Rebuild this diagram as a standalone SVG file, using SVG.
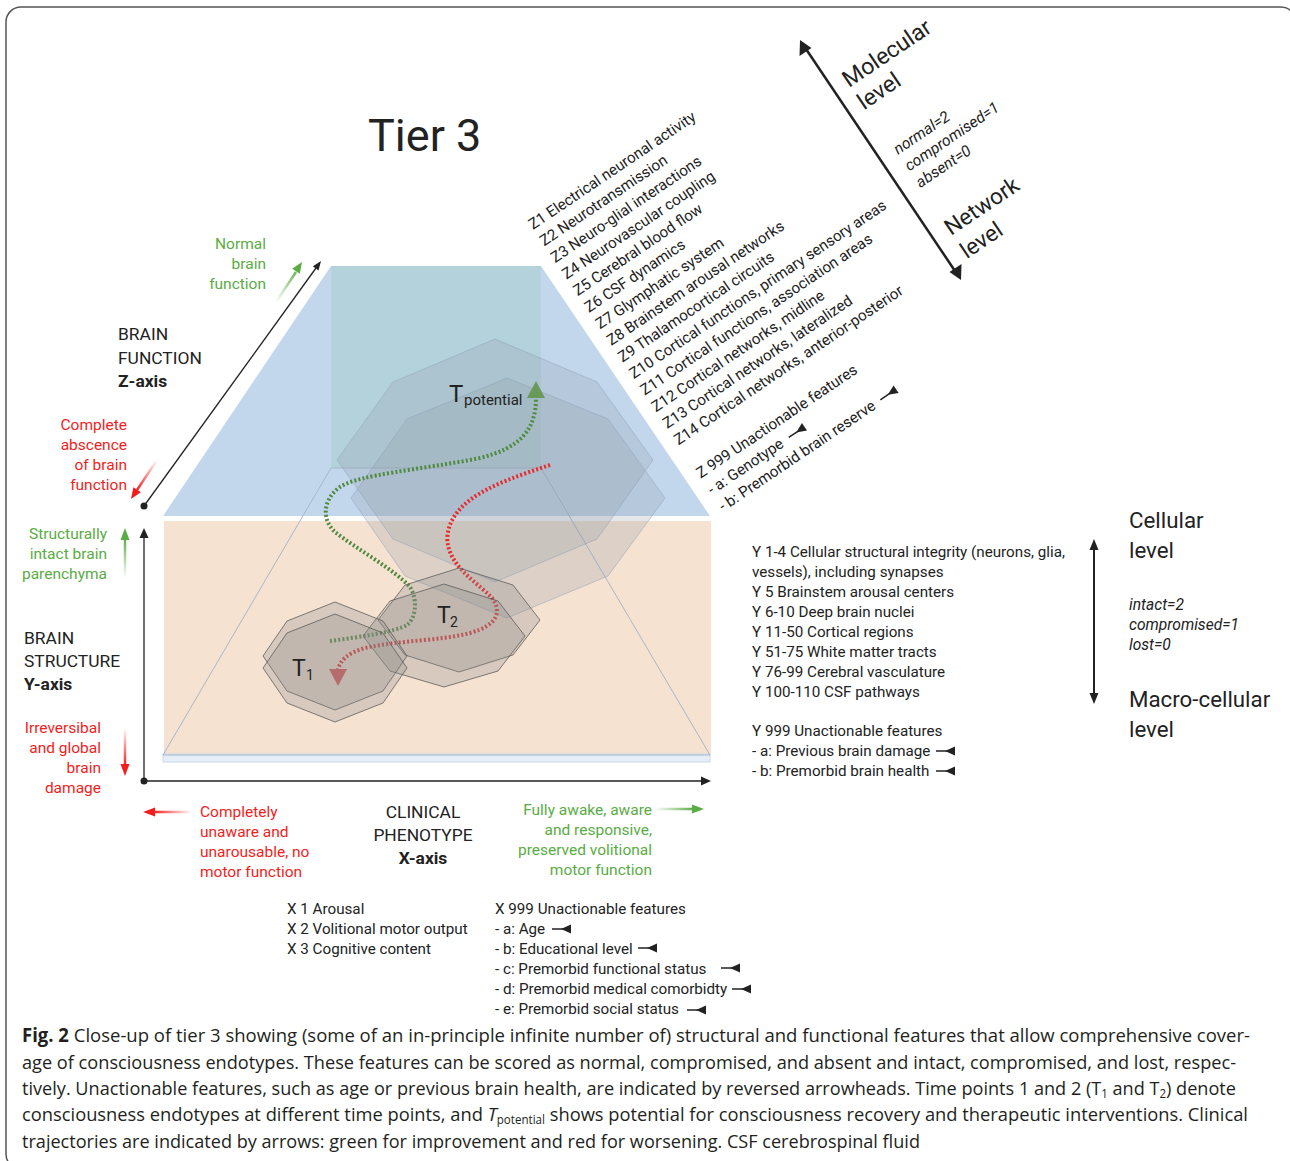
<svg xmlns="http://www.w3.org/2000/svg" width="1290" height="1161" viewBox="0 0 1290 1161">
<style>
text{font-family:Roboto,"Liberation Sans",sans-serif;fill:#222}
.lab{font-size:15.5px}
.ax{font-size:17.4px}
.b{font-weight:bold}
.g{fill:#5aac44}
.r{fill:#f21d1d}
.lst{font-size:15.2px}
.z{font-size:15.2px}
.big{font-size:22.3px}
.it{font-style:italic;font-size:15.6px}
.cap{font-family:"Open Sans","Noto Sans",sans-serif;font-size:19px;fill:#231f20}
.oct{fill:#8d99a6;fill-opacity:0.24;stroke:#8ea2be;stroke-opacity:0.5;stroke-width:1}
.toct{fill:#8a8a8a;fill-opacity:0.28;stroke:#555;stroke-opacity:0.75;stroke-width:1}
.axis{stroke:#222;stroke-width:1.3;fill:none}
</style>
<defs>
<g id="rev"><line x1="0" y1="0" x2="11" y2="0" stroke="#222" stroke-width="1.5"/><polygon points="9,0 19,-4.5 19,4.5" fill="#222"/></g>
<linearGradient id="gN" gradientUnits="userSpaceOnUse" x1="276" y1="302" x2="298" y2="268"><stop offset="0" stop-color="#5aac44" stop-opacity="0"/><stop offset="1" stop-color="#5aac44"/></linearGradient>
<linearGradient id="gC" gradientUnits="userSpaceOnUse" x1="157" y1="460" x2="136" y2="491"><stop offset="0" stop-color="#f21d1d" stop-opacity="0"/><stop offset="1" stop-color="#f21d1d"/></linearGradient>
<linearGradient id="gYg" gradientUnits="userSpaceOnUse" x1="125" y1="578" x2="125" y2="538"><stop offset="0" stop-color="#5aac44" stop-opacity="0"/><stop offset="1" stop-color="#5aac44"/></linearGradient>
<linearGradient id="gYr" gradientUnits="userSpaceOnUse" x1="125" y1="728" x2="125" y2="766"><stop offset="0" stop-color="#f21d1d" stop-opacity="0"/><stop offset="1" stop-color="#f21d1d"/></linearGradient>
<linearGradient id="gXr" gradientUnits="userSpaceOnUse" x1="192" y1="812" x2="153" y2="812"><stop offset="0" stop-color="#f21d1d" stop-opacity="0"/><stop offset="1" stop-color="#f21d1d"/></linearGradient>
<linearGradient id="gXg" gradientUnits="userSpaceOnUse" x1="655" y1="809" x2="694" y2="809"><stop offset="0" stop-color="#5aac44" stop-opacity="0"/><stop offset="1" stop-color="#5aac44"/></linearGradient>
</defs>

<rect x="6" y="7" width="1290" height="1162" rx="15" fill="#fff" stroke="#555" stroke-width="1.5"/>

<g id="planes">
<polygon points="331,266 541,266 710,516 163,516" fill="#c3d7ec"/>
<rect x="331" y="266" width="210" height="202" fill="#b4d2dc"/>
<rect x="164" y="521" width="547" height="233" fill="#f6e2d1"/>
<rect x="163" y="754" width="547" height="8" fill="#e6eef8" stroke="#c8d8ec" stroke-width="1"/>
<polygon points="331,468 541,468 710,755 163,755" fill="none" stroke="#a8b6c8" stroke-width="1"/>
</g>

<g id="tpotential">
<polygon class="oct" points="495,339 597,382 653,460 597,539 495,582 393,539 337,460 393,382"/>
<polygon class="oct" points="507,378 608,419 665,498 608,576 507,618 405,576 351,498 407,419"/>
<text x="449" y="402" style="font-size:24px">T</text><text x="464" y="405" style="font-size:15px">potential</text>
</g>

<g id="connectors">
<path d="M330,641 C360,637 395,632 407,625 C416,618 418,600 410,587 C395,570 355,548 335,532 C322,520 322,500 340,487 C360,474 420,470 480,458 C520,448 536,430 536,398" fill="none" stroke="#4f8a3f" stroke-width="4" stroke-dasharray="2 2.2"/>
<polygon points="536,381 527,398 545,398" fill="#6a9a5a"/>
<path d="M550,465 C520,475 490,485 470,500 C450,515 443,535 450,552 C458,572 480,585 492,598 C502,612 498,625 470,633 C440,641 400,640 365,648 C348,653 340,660 338,670" fill="none" stroke="#ea2a2a" stroke-width="4" stroke-dasharray="2 2.2"/>
<polygon points="329,669 347,669 338,686" fill="#e05252"/>

<line class="axis" x1="144" y1="506" x2="316" y2="268"/>
<polygon points="321,261 312.9,266.3 318.5,270.4" fill="#222"/>
<circle cx="144" cy="506" r="3.5" fill="#222"/>
<line class="axis" x1="144" y1="781" x2="144" y2="536"/>
<polygon points="144,528 139.5,538 148.5,538" fill="#222"/>
<line class="axis" x1="144" y1="781" x2="703" y2="781"/>
<polygon points="711,781 701,776.5 701,785.5" fill="#222"/>
<circle cx="144" cy="781" r="3.5" fill="#222"/>

<line x1="276" y1="302" x2="296" y2="272" stroke="url(#gN)" stroke-width="2.5"/>
<polygon points="302,262 292.2,268.7 299.8,273.7" fill="#5aac44"/>
<line x1="157" y1="460" x2="137" y2="490" stroke="url(#gC)" stroke-width="2.5"/>
<polygon points="131,499 133.4,487.3 140.8,492.3" fill="#f21d1d"/>
<line x1="125" y1="578" x2="125" y2="538" stroke="url(#gYg)" stroke-width="2.5"/>
<polygon points="125,528 120.5,540 129.5,540" fill="#5aac44"/>
<line x1="125" y1="728" x2="125" y2="766" stroke="url(#gYr)" stroke-width="2.5"/>
<polygon points="125,776 120.5,764 129.5,764" fill="#f21d1d"/>
<line x1="192" y1="812" x2="153" y2="812" stroke="url(#gXr)" stroke-width="2.5"/>
<polygon points="143,812 155,807.5 155,816.5" fill="#f21d1d"/>
<line x1="655" y1="809" x2="694" y2="809" stroke="url(#gXg)" stroke-width="2.5"/>
<polygon points="704,809 692,804.5 692,813.5" fill="#5aac44"/>

<line x1="805" y1="47.5" x2="956" y2="272.5" stroke="#222" stroke-width="2.5"/>
<polygon points="800,40 799.5,56 811.5,48" fill="#222"/>
<polygon points="961,280 961.5,264 949.5,272" fill="#222"/>
<line x1="1094" y1="548" x2="1094" y2="695" stroke="#222" stroke-width="2"/>
<polygon points="1094,539 1089.5,550 1098.5,550" fill="#222"/>
<polygon points="1094,704 1089.5,693 1098.5,693" fill="#222"/>
</g>

<g id="T2">
<polygon class="toct" points="459,568 513,585 540,620 513,655 459,672 405,655 378,620 405,585"/>
<polygon class="toct" points="444,584 498,601 525,636 498,671 444,687 390,671 363,636 390,601"/>
<text x="437" y="623" style="font-size:23px">T</text><text x="450" y="627" style="font-size:14px">2</text>
</g>
<g id="T1">
<polygon class="toct" points="335,602 383,621 407,656 383,691 335,710 287,691 263,656 287,621"/>
<polygon class="toct" points="335,614 383,633 407,668 383,703 335,722 287,703 263,668 287,633"/>
<text x="292" y="676" style="font-size:23px">T</text><text x="306" y="680" style="font-size:14px">1</text>
</g>

<g id="title"><text x="368" y="151" style="font-size:45px">Tier 3</text></g>

<g id="z-axis-labels">
<text class="lab g" text-anchor="end"><tspan x="266" y="249">Normal</tspan><tspan x="266" y="269">brain</tspan><tspan x="266" y="289">function</tspan></text>
<text class="ax"><tspan x="118" y="340">BRAIN</tspan><tspan x="118" y="363.5">FUNCTION</tspan><tspan x="118" y="387" class="b">Z-axis</tspan></text>
<text class="lab r" text-anchor="end"><tspan x="127" y="430">Complete</tspan><tspan x="127" y="450">abscence</tspan><tspan x="127" y="470">of  brain</tspan><tspan x="127" y="490">function</tspan></text>
</g>

<g id="y-axis-labels">
<text class="lab g" text-anchor="end"><tspan x="107" y="539">Structurally</tspan><tspan x="107" y="559">intact brain</tspan><tspan x="107" y="579">parenchyma</tspan></text>
<text class="ax"><tspan x="24" y="644">BRAIN</tspan><tspan x="24" y="667">STRUCTURE</tspan><tspan x="24" y="690" class="b">Y-axis</tspan></text>
<text class="lab r" text-anchor="end"><tspan x="101" y="733">Irreversibal</tspan><tspan x="101" y="753">and global</tspan><tspan x="101" y="773">brain</tspan><tspan x="101" y="793">damage</tspan></text>
</g>

<g id="x-axis-labels">
<text class="lab r"><tspan x="200" y="817">Completely</tspan><tspan x="200" y="837">unaware and</tspan><tspan x="200" y="857">unarousable, no</tspan><tspan x="200" y="877">motor function</tspan></text>
<text class="ax" text-anchor="middle"><tspan x="423" y="818">CLINICAL</tspan><tspan x="423" y="841">PHENOTYPE</tspan><tspan x="423" y="864" class="b">X-axis</tspan></text>
<text class="lab g" text-anchor="end"><tspan x="652" y="815">Fully awake, aware</tspan><tspan x="652" y="835">and responsive,</tspan><tspan x="652" y="855">preserved volitional</tspan><tspan x="652" y="875">motor function</tspan></text>
</g>

<g id="x-features">
<text class="lst"><tspan x="287" y="914">X 1 Arousal</tspan><tspan x="287" y="934">X 2 Volitional motor output</tspan><tspan x="287" y="954">X 3 Cognitive content</tspan></text>
<text class="lst"><tspan x="495" y="914">X 999 Unactionable features</tspan><tspan x="495" y="934">- a: Age</tspan><tspan x="495" y="954">- b: Educational level</tspan><tspan x="495" y="974">- c: Premorbid functional status</tspan><tspan x="495" y="994">- d: Premorbid medical comorbidty</tspan><tspan x="495" y="1014">- e: Premorbid social status</tspan></text>
<use href="#rev" x="552" y="929"/>
<use href="#rev" x="638" y="948"/>
<use href="#rev" x="721" y="968"/>
<use href="#rev" x="732" y="989"/>
<use href="#rev" x="687" y="1010"/>
</g>

<g id="y-features">
<text class="lst"><tspan x="752" y="557">Y 1-4 Cellular structural integrity (neurons, glia,</tspan><tspan x="752" y="577">vessels), including synapses</tspan><tspan x="752" y="597">Y 5 Brainstem arousal centers</tspan><tspan x="752" y="617">Y 6-10 Deep brain nuclei</tspan><tspan x="752" y="637">Y 11-50 Cortical regions</tspan><tspan x="752" y="657">Y 51-75 White matter tracts</tspan><tspan x="752" y="677">Y 76-99 Cerebral vasculature</tspan><tspan x="752" y="697">Y 100-110 CSF pathways</tspan><tspan x="752" y="736">Y 999 Unactionable features</tspan><tspan x="752" y="756">- a: Previous brain damage</tspan><tspan x="752" y="776">- b: Premorbid brain health</tspan></text>
<use href="#rev" x="936" y="751"/>
<use href="#rev" x="936" y="771"/>
</g>

<g id="cellular-scale">
<text class="big"><tspan x="1129" y="528">Cellular</tspan><tspan x="1129" y="558">level</tspan></text>
<text class="it"><tspan x="1129" y="610">intact=2</tspan><tspan x="1129" y="630">compromised=1</tspan><tspan x="1129" y="650">lost=0</tspan></text>
<text class="big"><tspan x="1129" y="707">Macro-cellular</tspan><tspan x="1129" y="737">level</tspan></text>
</g>

<g id="molecular-scale">
<g transform="translate(849,88) rotate(-34)"><text class="big" style="font-size:23px"><tspan x="0" y="0">Molecular</tspan><tspan x="0" y="27">level</tspan></text></g>
<g transform="translate(898,155) rotate(-34)"><text class="it"><tspan x="0" y="0">normal=2</tspan><tspan x="0" y="20">compromised=1</tspan><tspan x="0" y="40">absent=0</tspan></text></g>
<g transform="translate(951,236) rotate(-34)"><text class="big" style="font-size:22.6px"><tspan x="0" y="0">Network</tspan><tspan x="0" y="28">level</tspan></text></g>
</g>

<g id="z-features" transform="translate(533,230) rotate(-34)">
<text class="z">
<tspan x="0" y="0">Z1 Electrical neuronal activity</tspan>
<tspan x="0" y="20">Z2 Neurotransmission</tspan>
<tspan x="0" y="40">Z3 Neuro-glial interactions</tspan>
<tspan x="0" y="60">Z4 Neurovascular coupling</tspan>
<tspan x="0" y="80">Z5 Cerebral blood flow</tspan>
<tspan x="0" y="100">Z6 CSF dynamics</tspan>
<tspan x="0" y="120">Z7 Glymphatic system</tspan>
<tspan x="0" y="140">Z8 Brainstem arousal networks</tspan>
<tspan x="0" y="160">Z9 Thalamocortical circuits</tspan>
<tspan x="0" y="180">Z10 Cortical functions, primary sensory areas</tspan>
<tspan x="0" y="200">Z11 Cortical functions,  association areas</tspan>
<tspan x="0" y="220">Z12 Cortical networks, midline</tspan>
<tspan x="0" y="240">Z13 Cortical networks, lateralized</tspan>
<tspan x="0" y="260">Z14 Cortical networks, anterior-posterior</tspan>
<tspan x="0" y="300">Z 999 Unactionable features</tspan>
<tspan x="0" y="320">- a: Genotype</tspan>
<tspan x="0" y="340">- b: Premorbid brain reserve</tspan>
</text>
<use href="#rev" x="96" y="315"/>
<use href="#rev" x="193" y="335"/>
</g>

<g id="caption">
<text class="cap" x="22" y="1042" textLength="1228" lengthAdjust="spacingAndGlyphs"><tspan font-weight="bold">Fig. 2</tspan>  Close-up of tier 3 showing (some of an in-principle infinite number of) structural and functional features that allow comprehensive cover-</text>
<text class="cap" x="22" y="1069" textLength="1214" lengthAdjust="spacingAndGlyphs">age of consciousness endotypes. These features can be scored as normal, compromised, and absent and intact, compromised, and lost, respec-</text>
<text class="cap" x="22" y="1095" textLength="1214" lengthAdjust="spacingAndGlyphs">tively. Unactionable features, such as age or previous brain health, are indicated by reversed arrowheads. Time points 1 and 2 (T<tspan font-size="12" dy="3">1</tspan><tspan dy="-3"> and T</tspan><tspan font-size="12" dy="3">2</tspan><tspan dy="-3">) denote</tspan></text>
<text class="cap" x="22" y="1121" textLength="1226" lengthAdjust="spacingAndGlyphs">consciousness endotypes at different time points, and <tspan font-style="italic">T</tspan><tspan font-size="12" dy="3">potential</tspan><tspan dy="-3"> shows potential for consciousness recovery and therapeutic interventions. Clinical</tspan></text>
<text class="cap" x="22" y="1148" textLength="898" lengthAdjust="spacingAndGlyphs">trajectories are indicated by arrows: green for improvement and red for worsening. CSF cerebrospinal fluid</text>
</g>
</svg>
